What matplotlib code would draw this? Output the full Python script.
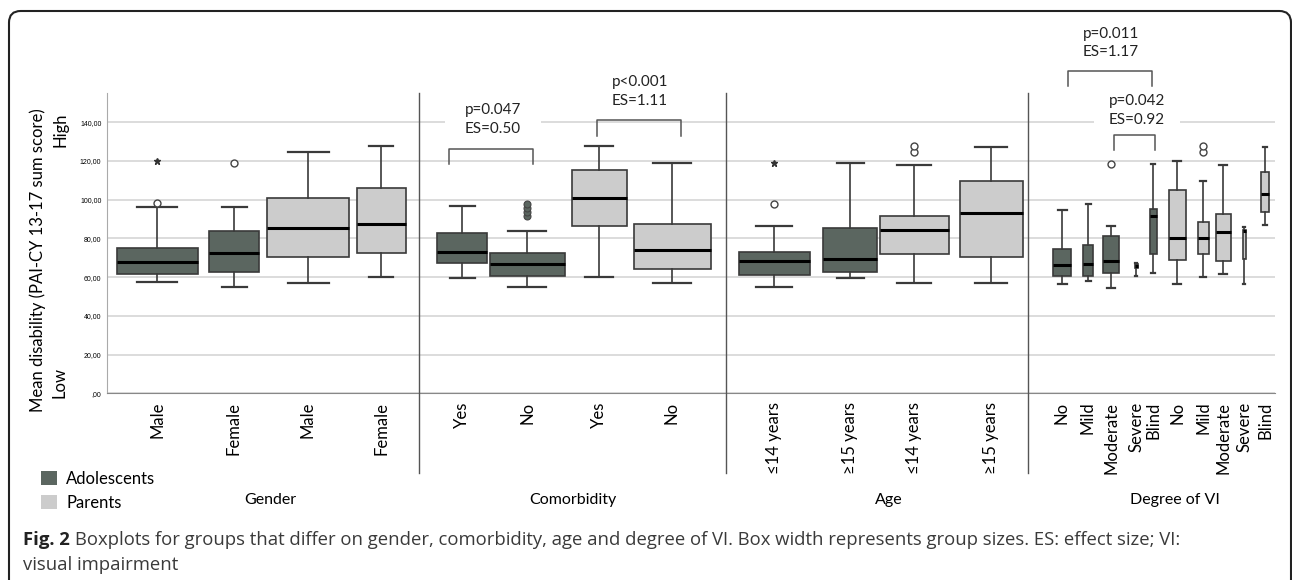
import matplotlib
matplotlib.use('Agg')
import matplotlib.pyplot as plt
from matplotlib.patches import Patch, FancyBboxPatch

plt.rcParams['font.family'] = ['Lato', 'DejaVu Sans']
plt.rcParams['font.size'] = 11

# ---- data ----
labels = ['Male', 'Female', 'Male', 'Female',
          'Yes', 'No', 'Yes', 'No',
          '≤14 years', '≥15 years', '≤14 years', '≥15 years',
          'No', 'Mild', 'Moderate', 'Severe', 'Blind',
          'No', 'Mild', 'Moderate', 'Severe', 'Blind']
groups = ['A', 'A', 'P', 'P',
          'A', 'A', 'P', 'P',
          'A', 'A', 'P', 'P',
          'A', 'A', 'A', 'A', 'A',
          'P', 'P', 'P', 'P', 'P']
whislo = [57.6, 54.7, 56.8, 60.2,
          59.4, 54.8, 60.3, 57.0,
          54.8, 59.6, 57.0, 56.9,
          56.7, 58.2, 54.6, 60.5, 62.2,
          56.5, 60.0, 61.7, 56.5, 86.8]
q1 = [61.5, 62.5, 70.6, 72.3,
      67.2, 60.8, 86.5, 64.1,
      61.0, 62.5, 72.0, 70.6,
      60.5, 60.8, 61.9, 64.8, 72.2,
      68.7, 72.2, 68.4, 69.6, 93.5]
med = [67.6, 72.6, 85.6, 87.6,
       72.9, 66.9, 101.1, 74.1,
       68.4, 69.4, 84.2, 93.2,
       66.5, 66.8, 68.1, 65.6, 91.6,
       80.3, 80.3, 83.4, 83.7, 103.0]
q3 = [75.3, 84.0, 101.1, 106.2,
      82.9, 72.7, 115.4, 87.3,
      73.2, 85.3, 91.8, 109.9,
      74.4, 76.5, 81.3, 66.8, 95.1,
      105.2, 88.7, 92.8, 84.4, 114.5]
whishi = [96.0, 96.4, 124.5, 127.9,
          96.6, 84.1, 127.8, 119.2,
          86.6, 119.2, 118.1, 127.1,
          94.7, 97.7, 86.5, 67.4, 118.7,
          120.0, 109.5, 118.0, 85.8, 127.1]
outliers = {0: [98.3], 1: [119.0], 8: [97.7], 10: [124.5, 128.0],
            14: [118.5], 18: [124.5, 128.0]}
outliers_filled = {5: [91.8, 93.5, 95.6, 97.8]}
extremes = {0: [119.8], 8: [119.0]}

panel_titles = ['Gender', 'Comorbidity', 'Age', 'Degree of VI']
tests = ['p=0.047\nES=0.50', 'p<0.001\nES=1.11', 'p=0.011\nES=1.17', 'p=0.042\nES=0.92']
yticks = [0, 20, 40, 60, 80, 100, 120, 140]
ytick_labels = [',00', '20,00', '40,00', '60,00', '80,00', '100,00', '120,00', '140,00']

# ---- layout ----
positions = [157, 234, 308, 381, 462, 527, 599, 672, 774, 850, 914, 991,
             1062, 1088, 1111, 1136, 1153, 1177, 1203, 1223, 1244, 1265]
widths = [81, 50, 82, 49, 50, 75, 55, 77, 71, 54, 69, 63,
          18, 10, 16, 3, 7, 17, 11, 15, 3, 8]
separators = [419, 726, 1028]
title_x = [270, 573, 889, 1175]
# bracket: x0, x1, top, tip ; text x, text y
brackets = [(449, 533, 126.4, 118.6, 493, 141.5),
            (597, 681, 141.0, 133.0, 640, 156.0),
            (1068, 1152, 166.7, 158.6, 1111, 181.0),
            (1114, 1155, 133.6, 125.9, 1137, 146.0)]
text_pads = [14, 0, 0, 11]

col_a = '#5b6660'
col_p = '#cccccc'
edge = '#3a3a3a'

fig = plt.figure(figsize=(12.92, 5.8), dpi=100)
ax = fig.add_axes([107/1292, (580-393.3)/580, (1275-107)/1292, 300/580])

stats = []
for i in range(len(labels)):
    stats.append(dict(med=med[i], q1=q1[i], q3=q3[i], whislo=whislo[i],
                      whishi=whishi[i], fliers=outliers.get(i, [])))

bp = ax.bxp(stats, positions=positions, widths=widths,
            capwidths=[w/2 for w in widths], patch_artist=True,
            boxprops=dict(edgecolor=edge, linewidth=1.2),
            medianprops=dict(color='black', linewidth=2.2),
            whiskerprops=dict(color=edge, linewidth=1.2),
            capprops=dict(color=edge, linewidth=1.6),
            flierprops=dict(marker='o', markersize=5, markerfacecolor='white',
                            markeredgecolor='#444444', markeredgewidth=1.0),
            zorder=3)
for patch, g in zip(bp['boxes'], groups):
    patch.set_facecolor(col_a if g == 'A' else col_p)

for i, vals in outliers_filled.items():
    ax.plot([positions[i]]*len(vals), vals, 'o', ms=5, mfc=col_a, mec='#444444',
            mew=0.8, zorder=4)
for i, vals in extremes.items():
    ax.plot([positions[i]]*len(vals), vals, '*', ms=5, color='#333333', zorder=4)

ax.set_xlim(107, 1275)
ax.set_ylim(0, 155)
ax.set_yticks(yticks, ytick_labels, fontsize=5, family='Liberation Sans')
ax.set_xticks(positions, labels, rotation=90, fontsize=12)
ax.tick_params(axis='both', length=0)
ax.tick_params(axis='x', pad=6)
ax.tick_params(axis='y', pad=4)
ax.yaxis.grid(True, color='#d9d9d9', linewidth=1.3)
ax.set_axisbelow(True)
for s in ['top', 'right']:
    ax.spines[s].set_visible(False)
ax.spines['left'].set_color('#aaaaaa')
ax.spines['bottom'].set_color('#888888')

for x in separators:
    ax.plot([x, x], [-41.2, 155], color='#555555', lw=1.0, clip_on=False, zorder=5)

for (x0, x1, top, tip, tx, ty), txt, pad in zip(brackets, tests, text_pads):
    ax.plot([x0, x0, x1, x1], [tip, top, top, tip], color='#555555', lw=1.1,
            clip_on=False, zorder=6)
    kw = {}
    if pad:
        kw['bbox'] = dict(facecolor='white', edgecolor='none', pad=pad)
    ax.text(tx, ty, txt, ha='center', va='center', fontsize=11,
            linespacing=1.45, color='#222222', clip_on=False, zorder=5, **kw)

for x, t in zip(title_x, panel_titles):
    ax.text(x, -0.356, t, transform=ax.get_xaxis_transform(), ha='center',
            va='center', fontsize=11.5)

# y label
fig.text(38/1292, 1-260/580, 'Mean disability (PAI-CY 13-17 sum score)',
         rotation=90, ha='center', va='center', fontsize=12)
fig.text(60/1292, 1-130/580, 'High', rotation=90, ha='center', va='center', fontsize=12)
fig.text(60/1292, 1-383/580, 'Low', rotation=90, ha='center', va='center', fontsize=12)

# legend
handles = [Patch(facecolor=col_a, edgecolor='none'), Patch(facecolor=col_p, edgecolor='none')]
fig.legend(handles, ['Adolescents', 'Parents'], loc='upper left',
           bbox_to_anchor=(26/1292, 1-456/580), frameon=False, fontsize=12,
           handlelength=0.95, handleheight=0.95, handletextpad=0.55, labelspacing=0.45)

# caption
t1 = fig.text(23/1292, 1-545/580, 'Fig. 2', fontsize=13.3, family='Open Sans',
              weight='bold', color='#222222', va='baseline')
ax.annotate('Boxplots for groups that differ on gender, comorbidity, age and degree of VI. '
            'Box width represents group sizes. ES: effect size; VI:',
            xy=(1, 0), xycoords=t1, xytext=(4, 0), textcoords='offset points',
            fontsize=13.3, family='Open Sans', color='#3a3a3a', va='bottom',
            annotation_clip=False)
fig.text(23/1292, 1-570/580, 'visual impairment', fontsize=13.3, family='Open Sans',
         color='#3a3a3a', va='baseline')

# frame
fig.patches.append(FancyBboxPatch((9/1292, -0.1), 1282/1292, 1.1 - 11/580,
                                  boxstyle='round,pad=0,rounding_size=0.009',
                                  transform=fig.transFigure, facecolor='none',
                                  edgecolor='#222222', linewidth=1.5,
                                  mutation_aspect=1292/580))

fig.savefig('out.png', dpi=100)
